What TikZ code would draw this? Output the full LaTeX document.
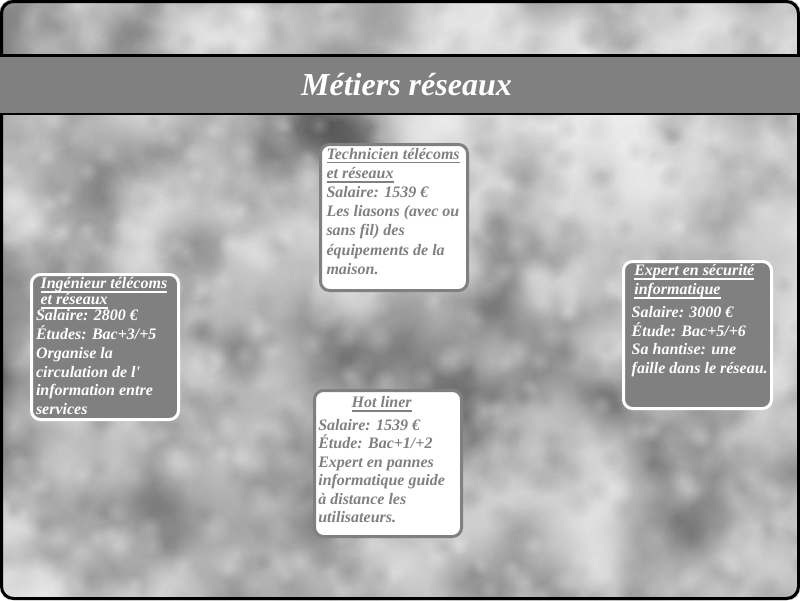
\documentclass[tikz,border=0pt]{standalone}
\usepackage{fontspec}
\setmainfont{Liberation Serif}
\usetikzlibrary{fadings}
\definecolor{midgray}{RGB}{128,128,128}
\definecolor{cloudbase}{RGB}{192,192,192}
\tikzfading[name=blobfade, inner color=transparent!0, outer color=transparent!100]
% underline drawn as a thick rule a little below the baseline
\newcommand\ulin[1]{\leavevmode\setbox0=\hbox{#1}\rlap{\rule[-4.3pt]{\wd0}{1.7pt}}\box0}
% soft cloud puff: (x, y, radius, colour, opacity)
\newcommand\puff[5]{\fill[#4, fill opacity=#5, path fading=blobfade] (#1,#2) circle[radius=#3];}
\begin{document}
\begin{tikzpicture}[x=1pt,y=-1pt,
  card/.style={rectangle, rounded corners=9pt, line width=3pt, inner sep=0pt, outer sep=0pt, anchor=north west},
  lightcard/.style={card, fill=white, draw=midgray},
  darkcard/.style={card, fill=midgray, draw=white},
  cardtext/.style={inner sep=0pt, outer sep=0pt, anchor=base west,
    font=\bfseries\itshape\fontsize{16}{19.2}\selectfont},
  titletext/.style={inner sep=0pt, anchor=base, text=white,
    font=\bfseries\itshape\fontsize{32}{38}\selectfont}]
\useasboundingbox (0,0) rectangle (800,600);
\fill[white] (0,0) rectangle (800,600);

% cloudy backdrop inside the rounded frame
\begin{scope}
  \clip[rounded corners=12pt] (0,0) rectangle (800,600);
  \fill[cloudbase] (0,0) rectangle (800,600);
  \pgfmathsetseed{4242}
  % large puffs
  \foreach \i in {1,...,140}{
    \pgfmathsetmacro\bx{rnd*900-50}
    \pgfmathsetmacro\by{rnd*700-50}
    \pgfmathsetmacro\br{90+rnd*90}
    \puff{\bx}{\by}{\br}{black}{0.2}
  }
  \foreach \i in {1,...,160}{
    \pgfmathsetmacro\bx{rnd*900-50}
    \pgfmathsetmacro\by{rnd*700-50}
    \pgfmathsetmacro\br{80+rnd*80}
    \puff{\bx}{\by}{\br}{white}{0.3}
  }
  % medium puffs
  \foreach \i in {1,...,300}{
    \pgfmathsetmacro\bx{rnd*840-20}
    \pgfmathsetmacro\by{rnd*640-20}
    \pgfmathsetmacro\br{30+rnd*30}
    \puff{\bx}{\by}{\br}{black}{0.13}
  }
  \foreach \i in {1,...,300}{
    \pgfmathsetmacro\bx{rnd*840-20}
    \pgfmathsetmacro\by{rnd*640-20}
    \pgfmathsetmacro\br{30+rnd*30}
    \puff{\bx}{\by}{\br}{white}{0.22}
  }
  % fine grain
  \foreach \i in {1,...,500}{
    \pgfmathsetmacro\bx{rnd*810-5}
    \pgfmathsetmacro\by{rnd*610-5}
    \pgfmathsetmacro\br{10+rnd*10}
    \puff{\bx}{\by}{\br}{white}{0.2}
  }
  \foreach \i in {1,...,400}{
    \pgfmathsetmacro\bx{rnd*810-5}
    \pgfmathsetmacro\by{rnd*610-5}
    \pgfmathsetmacro\br{10+rnd*10}
    \puff{\bx}{\by}{\br}{black}{0.07}
  }
\end{scope}

% outer frame
\draw[line width=3pt, rounded corners=12pt] (1.5,1.5) rectangle (798.5,598.5);

% title band
\fill[midgray] (0,56) rectangle (800,114);
\draw[line width=3pt] (0,55.8) -- (800,55.8);
\draw[line width=2.5pt] (0,113.9) -- (800,113.9);
\node[titletext] (title) at (406.5,95) {Métiers réseaux};

% job cards
\node[lightcard, minimum width=147pt, minimum height=146pt] (tech) at (320.5,144.5) {};
\node[cardtext, text=midgray] (techtxt) at (326.5,159) {\parbox[t]{170pt}{\raggedright
  \ulin{Technicien télécoms}\\
  \ulin{et réseaux}\\
  Salaire: 1539 €\\
  Les liasons (avec ou\\
  sans fil) des\\
  équipements de la\\
  maison.}};

\node[darkcard, minimum width=147pt, minimum height=145pt] (ing) at (31.5,274.5) {};
\node[cardtext, text=white, font=\bfseries\itshape\fontsize{16}{18.9}\selectfont] (ingtxt) at (36,288.3) {\parbox[t]{170pt}{\raggedright
  \hspace*{4.6pt}\ulin{Ingénieur télécoms}\\[-2.9pt]
  \hspace*{4.6pt}\ulin{et réseaux}\\[-2.9pt]
  Salaire: 2800 €\\
  Études: Bac+3/+5\\
  Organise la\\
  circulation de l\textquotesingle\\
  information entre\\
  services}};

\node[lightcard, minimum width=147pt, minimum height=146pt] (hot) at (314.5,390.5) {};
\node[cardtext, text=midgray, font=\bfseries\itshape\fontsize{16}{18.5}\selectfont] (hottxt) at (318.3,407.7) {\parbox[t]{170pt}{\raggedright
  \makebox[126.8pt]{\ulin{Hot liner}}\\[3.8pt]
  Salaire: 1539 €\\
  Étude: Bac+1/+2\\
  Expert en pannes\\
  informatique guide\\
  à distance les\\
  utilisateurs.}};

\node[darkcard, minimum width=148pt, minimum height=147pt] (exp) at (623.5,261.5) {};
\node[cardtext, text=white, font=\bfseries\itshape\fontsize{16}{18.5}\selectfont] (exptxt) at (631.7,275.7) {\parbox[t]{170pt}{\raggedright
  \hspace*{2.6pt}\ulin{Expert en sécurité}\\
  \hspace*{2.6pt}\ulin{informatique}\\[5pt]
  Salaire: 3000 €\\
  Étude: Bac+5/+6\\
  Sa hantise: une\\
  faille dans le réseau.}};
\end{tikzpicture}
\end{document}
